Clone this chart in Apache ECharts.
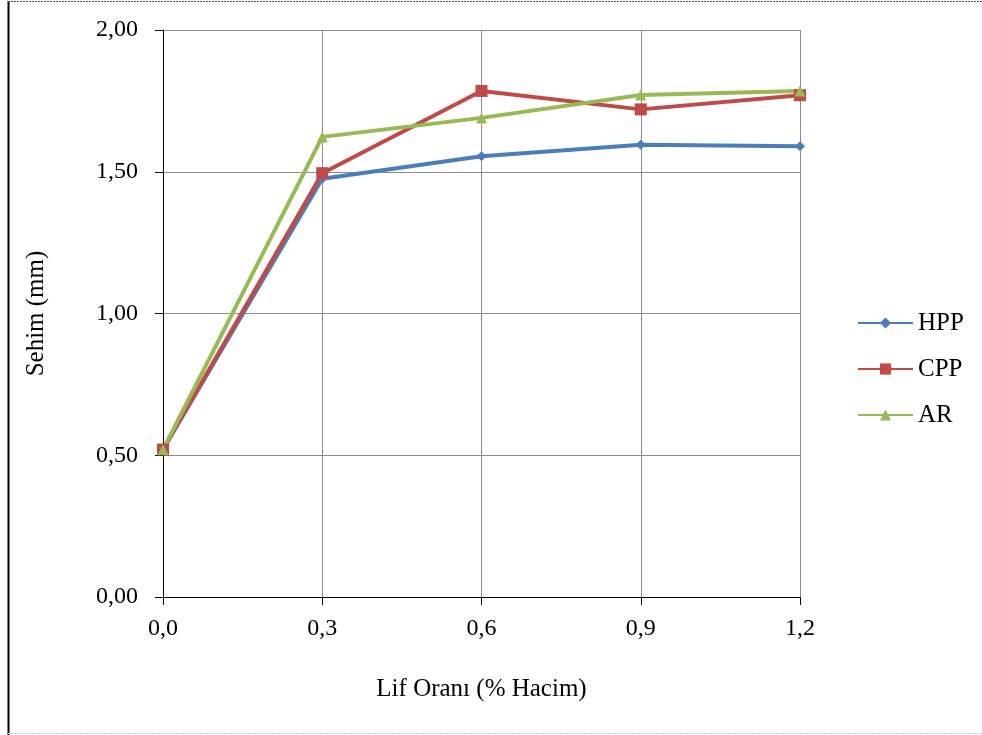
<!DOCTYPE html>
<html>
<head>
<meta charset="utf-8">
<script src="https://cdn.jsdelivr.net/npm/echarts@6/dist/echarts.min.js"></script>
<style>
html,body{margin:0;padding:0;background:#fff;}
#main{width:982px;height:735px;}
</style>
</head>
<body>
<div id="main"></div>
<script>
const categories = ['0,0', '0,3', '0,6', '0,9', '1,2'];
const hpp = [0.52, 1.475, 1.555, 1.595, 1.590];
const cpp = [0.52, 1.495, 1.785, 1.720, 1.770];
const ar  = [0.52, 1.623, 1.690, 1.771, 1.785];
const seriesNames = ['HPP', 'CPP', 'AR'];
const seriesColors = ['#4a7ebb', '#be4b48', '#98b954'];
const yTicks = { min: 0, max: 2, interval: 0.5 };

const font = 'Liberation Serif';
const chart = echarts.init(document.getElementById('main'));

function mkSeries(name, data, color, symbol, size) {
  return {
    name: name, type: 'line', data: data,
    symbol: symbol, symbolSize: size,
    lineStyle: { color: color, width: 4 },
    itemStyle: { color: color },
    z: 3
  };
}

chart.setOption({
  animation: false,
  backgroundColor: '#fff',
  grid: { left: 163, right: 182, top: 30, bottom: 138 },
  legend: {
    orient: 'vertical', left: 852, top: 305, itemGap: 20,
    itemWidth: 55, itemHeight: 14,
    textStyle: { fontFamily: font, fontSize: 25, color: '#000', lineHeight: 26 },
    data: seriesNames
  },
  xAxis: {
    type: 'category', data: categories, boundaryGap: false,
    name: 'Lif Oranı (% Hacim)', nameLocation: 'middle', nameGap: 80,
    nameTextStyle: { fontFamily: font, fontSize: 25, color: '#000' },
    axisLine: { lineStyle: { color: '#000', width: 1 } },
    axisTick: { show: true, length: 8, lineStyle: { color: '#000' } },
    axisLabel: { fontFamily: font, fontSize: 24, color: '#000', margin: 20 },
    splitLine: { show: true, lineStyle: { color: '#8c8c8c', width: 1 } }
  },
  yAxis: {
    type: 'value', min: yTicks.min, max: yTicks.max, interval: yTicks.interval,
    name: 'Sehim (mm)', nameLocation: 'middle', nameGap: 114,
    nameTextStyle: { fontFamily: font, fontSize: 25, color: '#000' },
    axisLine: { show: true, lineStyle: { color: '#000', width: 1 } },
    axisTick: { show: true, length: 8, lineStyle: { color: '#000' } },
    axisLabel: { fontFamily: font, fontSize: 24, color: '#000', margin: 25,
      formatter: v => v.toFixed(2).replace('.', ',') },
    splitLine: { show: true, lineStyle: { color: '#8c8c8c', width: 1 } }
  },
  series: [
    mkSeries(seriesNames[0], hpp, seriesColors[0], 'diamond', 10),
    mkSeries(seriesNames[1], cpp, seriesColors[1], 'rect', 12),
    mkSeries(seriesNames[2], ar, seriesColors[2], 'triangle', 11)
  ],
  graphic: [
    { type: 'line', shape: { x1: 8.5, y1: 1, x2: 8.5, y2: 735 }, style: { stroke: '#000', lineWidth: 2 } },
    { type: 'line', shape: { x1: 8, y1: 1.5, x2: 982, y2: 1.5 }, style: { stroke: '#555', lineWidth: 1, lineDash: [2, 1] } },
    { type: 'line', shape: { x1: 8, y1: 733.5, x2: 982, y2: 733.5 }, style: { stroke: '#ccc', lineWidth: 1, lineDash: [2, 1] } }
  ]
});
</script>
</body>
</html>
